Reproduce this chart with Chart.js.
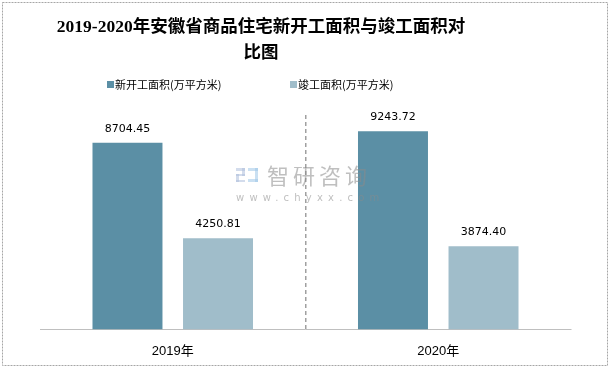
<!DOCTYPE html>
<html><head><meta charset="utf-8">
<script src="https://cdn.jsdelivr.net/npm/chart.js@4/dist/chart.umd.min.js"></script>
<style>
html,body{margin:0;padding:0;background:#fff;}
#wrap{position:relative;width:610px;height:369px;}
canvas{display:block;}
</style></head><body>
<div id="wrap"><canvas id="c" width="610" height="369"></canvas></div>
<script>
const titleLines = ['2019-2020年安徽省商品住宅新开工面积与竣工面积对', '比图'];
const categories = ['2019年', '2020年'];
const seriesNames = ['新开工面积(万平方米)', '竣工面积(万平方米)'];
const newStarts = [8704.45, 9243.72];
const completions = [4250.81, 3874.40];
const colors = ['#5b8fa5', '#a0bdca'];

const decor = {
  id: 'decor',
  beforeDraw(chart) {
    const ctx = chart.ctx;
    ctx.save();
    ctx.fillStyle = '#fff';
    ctx.fillRect(0, 0, chart.width, chart.height);
    ctx.restore();
  },
  afterDatasetsDraw(chart) {
    const ctx = chart.ctx;
    ctx.save();
    // value labels
    ctx.font = '11px "DejaVu Sans"';
    ctx.fillStyle = '#000';
    ctx.textAlign = 'center';
    ctx.textBaseline = 'middle';
    chart.data.datasets.forEach((ds, i) => {
      chart.getDatasetMeta(i).data.forEach((bar, j) => {
        ctx.fillText(ds.data[j].toFixed(2), bar.x, bar.y - 14);
      });
    });
    // watermark
    ctx.globalAlpha = 0.55;
    ctx.fillStyle = '#aebfdc';
    ctx.fillRect(236, 168, 9, 3);
    ctx.fillRect(242, 168, 3, 8);
    ctx.fillRect(236, 174, 9, 2);
    ctx.fillRect(236, 174, 3, 8);
    ctx.fillRect(236, 180, 9, 2);
    ctx.fillStyle = '#9fc6e8';
    ctx.fillRect(248, 168, 10, 3);
    ctx.fillRect(255, 168, 3, 14);
    ctx.fillRect(248, 179, 10, 3);
    ctx.fillStyle = '#8a8a8a';
    ctx.font = '22px "Noto Sans CJK SC"';
    ctx.textAlign = 'left';
    ctx.textBaseline = 'middle';
    ctx.letterSpacing = '4px';
    ctx.fillText('智研咨询', 267, 176);
    ctx.font = '10px "DejaVu Sans"';
    ctx.letterSpacing = '5.2px';
    ctx.fillText('www.chyxx.com', 236, 198);
    ctx.restore();
  },
  afterDraw(chart) {
    const ctx = chart.ctx;
    ctx.save();
    // title
    ctx.fillStyle = '#000';
    ctx.textAlign = 'center';
    ctx.textBaseline = 'middle';
    ctx.font = 'bold 17.5px "Liberation Serif", "Noto Sans CJK SC"';
    ctx.fillText(titleLines[0], 261, 27);
    ctx.fillText(titleLines[1], 261, 53);
    // legend
    ctx.font = '11px "Noto Sans CJK SC"';
    ctx.textAlign = 'left';
    const lx = [107, 290];
    seriesNames.forEach((n, i) => {
      ctx.fillStyle = colors[i];
      ctx.fillRect(lx[i], 81, 7, 7);
      ctx.fillStyle = '#000';
      ctx.fillText(n, lx[i] + 8, 85);
    });
    // outer border
    ctx.strokeStyle = '#a6a6a6';
    ctx.lineWidth = 1;
    ctx.setLineDash([2, 1]);
    ctx.strokeRect(2.5, 2.5, 605, 363);
    ctx.restore();
  }
};

new Chart(document.getElementById('c'), {
  type: 'bar',
  data: {
    labels: categories,
    datasets: [
      { label: seriesNames[0], data: newStarts, backgroundColor: colors[0] },
      { label: seriesNames[1], data: completions, backgroundColor: colors[1] }
    ]
  },
  options: {
    responsive: false,
    animation: false,
    devicePixelRatio: 1,
    layout: { padding: { left: 40, right: 39, top: 115, bottom: -4 } },
    datasets: { bar: { categoryPercentage: 0.682, barPercentage: 0.773 } },
    plugins: { legend: { display: false }, title: { display: false }, tooltip: { enabled: false } },
    scales: {
      x: {
        offset: true,
        grid: {
          offset: true,
          drawTicks: false,
          color: (c) => c.index === 1 ? '#a0a0a0' : 'rgba(0,0,0,0)',
          lineWidth: 1.5
        },
        border: { display: true, color: '#bfbfbf', width: 1, dash: [4, 3] },
        ticks: { color: '#000', font: { size: 13, family: '"Liberation Sans", "Noto Sans CJK SC"' }, padding: 14 }
      },
      y: {
        display: false,
        min: 0,
        max: 10000
      }
    }
  },
  plugins: [decor]
});
</script>
</body></html>
